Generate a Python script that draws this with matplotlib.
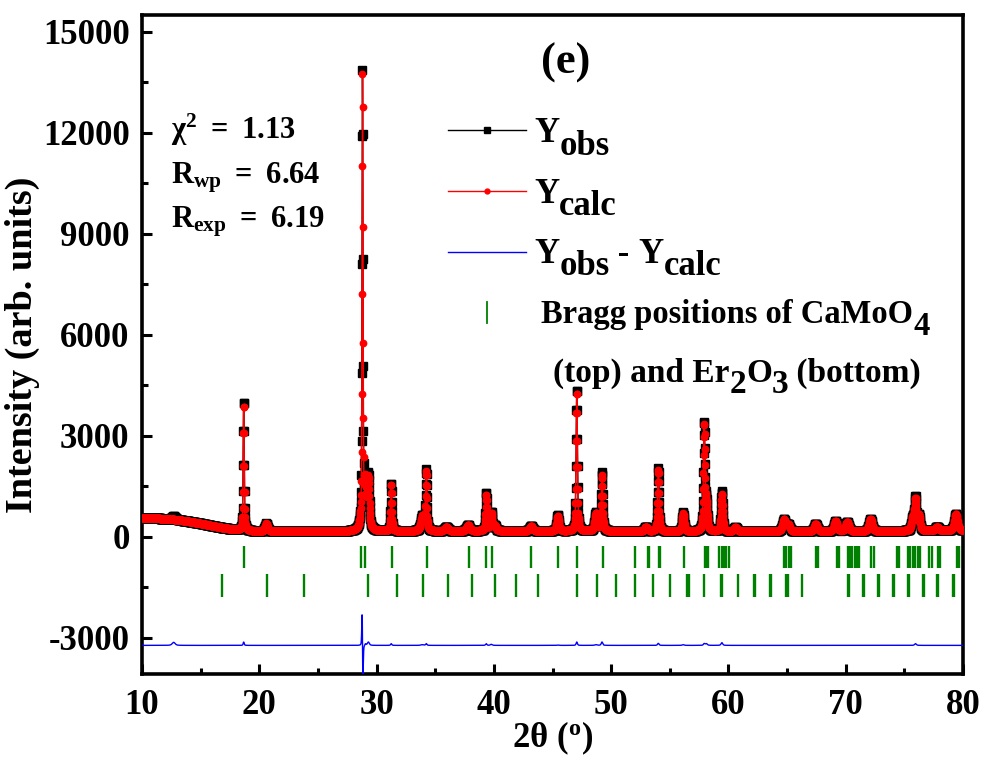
import numpy as np
import matplotlib
matplotlib.use("Agg")
import matplotlib.pyplot as plt
from matplotlib.lines import Line2D
from matplotlib.ticker import MultipleLocator

plt.rcParams['font.family'] = ['Liberation Serif', 'DejaVu Serif']
plt.rcParams['font.weight'] = 'bold'
plt.rcParams['axes.unicode_minus'] = False
plt.rcParams['mathtext.fontset'] = 'custom'
plt.rcParams['mathtext.bf'] = 'Liberation Serif:bold'
plt.rcParams['mathtext.rm'] = 'Liberation Serif:bold'
plt.rcParams['mathtext.it'] = 'Liberation Serif:bold'

# ---------------- data ----------------
two_theta_range = (10.0, 80.0)
step = 0.02

bg_x = [10, 11, 12, 13, 14, 15, 16, 17, 18, 19, 20, 25, 30, 40, 50, 60, 70, 80]
bg_y = [560, 555, 540, 510, 460, 400, 330, 265, 215, 185, 170, 160, 170, 180, 170, 160, 165, 190]

peak_pos_obs = [12.70, 18.67, 20.60, 28.80, 28.95, 29.05, 29.30, 31.25, 33.90, 34.24, 35.95,
                37.80, 39.35, 39.78, 40.10, 43.18, 45.45, 47.07, 48.71, 49.22, 52.97, 54.02,
                56.14, 57.93, 58.12, 59.44, 60.60, 64.74, 65.10, 67.44, 69.14, 70.13, 72.12,
                75.72, 75.95, 76.25, 77.79, 79.40]
peak_pos_calc = [12.70, 18.67, 20.60, 28.805, 28.95, 29.05, 29.30, 31.25, 33.90, 34.24, 35.95,
                 37.80, 39.35, 39.78, 40.10, 43.18, 45.45, 47.07, 48.71, 49.22, 52.97, 54.02,
                 56.14, 57.93, 58.12, 59.44, 60.60, 64.74, 65.10, 67.44, 69.14, 70.13, 72.12,
                 75.72, 75.95, 76.25, 77.79, 79.40]
peak_h_obs = [90, 3900, 230, 13200, 600, 900, 1500, 1430, 450, 1800, 130,
              170, 1130, 550, 150, 140, 470, 4250, 550, 1750, 130, 1880,
              560, 3150, 800, 1200, 120, 350, 200, 220, 300, 280, 360,
              400, 950, 450, 120, 500]
peak_h_calc = [0, 3800, 230, 13200, 600, 850, 1400, 1380, 430, 1750, 130,
               170, 1080, 520, 150, 140, 460, 4150, 530, 1650, 130, 1820,
               540, 3100, 750, 1120, 120, 350, 200, 220, 300, 280, 360,
               400, 900, 450, 120, 500]
peak_fwhm = [0.30, 0.10, 0.25, 0.09, 0.50, 0.12, 0.20, 0.12, 0.30, 0.13, 0.30,
             0.30, 0.13, 0.20, 0.20, 0.30, 0.20, 0.13, 0.25, 0.15, 0.30, 0.15,
             0.20, 0.15, 0.20, 0.17, 0.30, 0.30, 0.30, 0.30, 0.30, 0.30, 0.30,
             0.25, 0.18, 0.20, 0.30, 0.30]
diff_offset = -3220

bragg_camoo4 = [18.67, 28.66, 29.00, 31.28, 34.30, 37.87, 39.32, 39.86, 43.18, 45.51, 47.10,
                49.28, 52.00, 53.11, 53.25, 54.04, 54.16, 56.23, 57.99, 58.16, 58.30, 59.21,
                59.43, 59.63, 59.83, 60.06, 64.74, 64.94, 65.17, 65.36, 67.49, 67.66, 69.28,
                69.42, 70.16, 70.33, 70.55, 70.76, 70.98, 71.12, 72.17, 72.37, 74.38, 74.53,
                75.32, 75.52, 75.72, 75.95, 76.17, 76.31, 77.14, 77.36, 77.87, 78.08, 79.49,
                79.69]
bragg_er2o3 = [16.83, 20.66, 23.83, 29.31, 31.72, 33.99, 36.11, 38.13, 40.12, 41.93, 43.75,
               47.10, 48.77, 50.42, 52.00, 53.53, 55.01, 56.51, 56.60, 57.93, 59.35, 59.45,
               60.83, 62.19, 62.29, 63.52, 63.62, 64.94, 65.04, 66.30, 70.21, 70.31, 71.46,
               71.56, 72.77, 72.87, 74.02, 74.12, 75.32, 75.42, 76.60, 76.70, 77.79, 77.89,
               79.12, 79.22]

x_ticks = [10, 20, 30, 40, 50, 60, 70, 80]
y_ticks = [-3000, 0, 3000, 6000, 9000, 12000, 15000]


# ---------------- profile model ----------------
def pseudo_voigt(x, x0, h, w, eta=0.5):
    d = (x - x0) / w
    return h * (eta / (1 + 4 * d ** 2) + (1 - eta) * np.exp(-4 * np.log(2) * d ** 2))


x = np.arange(two_theta_range[0], two_theta_range[1] + step / 2, step)
bg = np.interp(x, bg_x, bg_y)
y_obs = bg.copy()
y_calc = bg.copy()
for p, h, w in zip(peak_pos_obs, peak_h_obs, peak_fwhm):
    y_obs += pseudo_voigt(x, p, h, w)
for p, h, w in zip(peak_pos_calc, peak_h_calc, peak_fwhm):
    y_calc += pseudo_voigt(x, p, h, w)
y_diff = y_obs - y_calc + diff_offset

# ---------------- figure ----------------
fig = plt.figure(figsize=(9.86, 7.58), dpi=100)
ax = fig.add_axes([142 / 986, 1 - 674 / 758, (963 - 142) / 986, (674 - 15) / 758])

ax.plot(x, y_obs, color='black', lw=1.0, marker='s', ms=6.0, mfc='black', mec='black', zorder=2)
ax.plot(x, y_calc, color='red', lw=1.0, marker='o', ms=4.6, mfc='red', mec='red', zorder=3)
ax.plot(x, y_diff, color='blue', lw=1.0, zorder=3)
ax.vlines(bragg_camoo4, -921, -267, color='green', lw=1.7, zorder=2)
ax.vlines(bragg_er2o3, -1782, -1099, color='green', lw=1.7, zorder=2)

ax.set_xlim(10, 80)
ax.set_ylim(-4070, 15500)
ax.set_xticks(x_ticks)
ax.set_yticks(y_ticks)
ax.xaxis.set_minor_locator(MultipleLocator(5))
ax.yaxis.set_minor_locator(MultipleLocator(1500))
ax.tick_params(which='both', direction='in', top=False, right=False, labelsize=25)
ax.tick_params(which='major', length=7, width=2.2)
ax.tick_params(which='minor', length=4.5, width=2.2)
ax.tick_params(axis='y', pad=9)
ax.tick_params(axis='x', pad=11)
for lab in ax.get_xticklabels() + ax.get_yticklabels():
    lab.set_fontweight('bold')
for s in ax.spines.values():
    s.set_linewidth(2.6)

ax.set_ylabel('Intensity (arb. units)', fontsize=27.5, fontweight='bold', labelpad=2)
ax.set_xlabel(r'2θ ($\mathregular{^o}$)', fontsize=25, fontweight='bold', labelpad=-2)

# panel label
ax.text(0.5164, 0.927, '(e)', transform=ax.transAxes, fontsize=32, fontweight='bold',
        ha='center', va='center')

# statistics
ax.text(0.0353, 0.8118, r'$\mathbf{\chi^{2}\ =\ 1.13}$', transform=ax.transAxes, fontsize=22,
        va='baseline', ha='left')
ax.text(0.0353, 0.745, r'$\mathbf{R_{wp}\ =\ 6.64}$', transform=ax.transAxes, fontsize=22,
        va='baseline', ha='left')
ax.text(0.0353, 0.6768, r'$\mathbf{R_{exp}\ =\ 6.19}$', transform=ax.transAxes, fontsize=22,
        va='baseline', ha='left')


# legend (drawn by hand)
def rich(x0, y0, pieces, fs):
    t = ax.text(x0, y0, pieces[0][0], transform=ax.transAxes, fontsize=fs, fontweight='bold',
                va='bottom', ha='left')
    prev, prev_dy = t, pieces[0][1]
    for s, dy in pieces[1:]:
        a = ax.annotate(s, xy=(1, 0), xycoords=prev, xytext=(0, dy - prev_dy),
                        textcoords='offset points', fontsize=fs, fontweight='bold',
                        va='bottom', ha='left')
        prev, prev_dy = a, dy


lx0, lx1, lxm = 0.3727, 0.4677, 0.4202
for yy, col, mk, ms in [(0.8255, 'black', 's', 5), (0.7329, 'red', 'o', 3.5), (0.6404, 'blue', None, 0)]:
    ax.add_line(Line2D([lx0, lx1], [yy, yy], transform=ax.transAxes, color=col, lw=1.0))
    if mk:
        ax.add_line(Line2D([lxm], [yy], transform=ax.transAxes, color=col, marker=mk, ms=ms, lw=0))
ax.add_line(Line2D([lxm, lxm], [0.5326, 0.5645], transform=ax.transAxes, color='green', lw=1.3))

rich(0.4775, 0.7951, [('Y', 0), ('obs', -9)], 25)
rich(0.4775, 0.7032, [('Y', 0), ('calc', -9)], 25)
rich(0.4775, 0.6121, [('Y', 0), ('obs', -9), (' - ', 0), ('Y', 0), ('calc', -9)], 25)
rich(0.4865, 0.5227, [('Bragg positions of CaMoO', 0), ('4', -9)], 23.5)
rich(0.5006, 0.4331, [('(top) and Er', 0), ('2', -8), ('O', 0), ('3', -8), (' (bottom)', 0)], 24)

fig.savefig('out.png', dpi=100)
